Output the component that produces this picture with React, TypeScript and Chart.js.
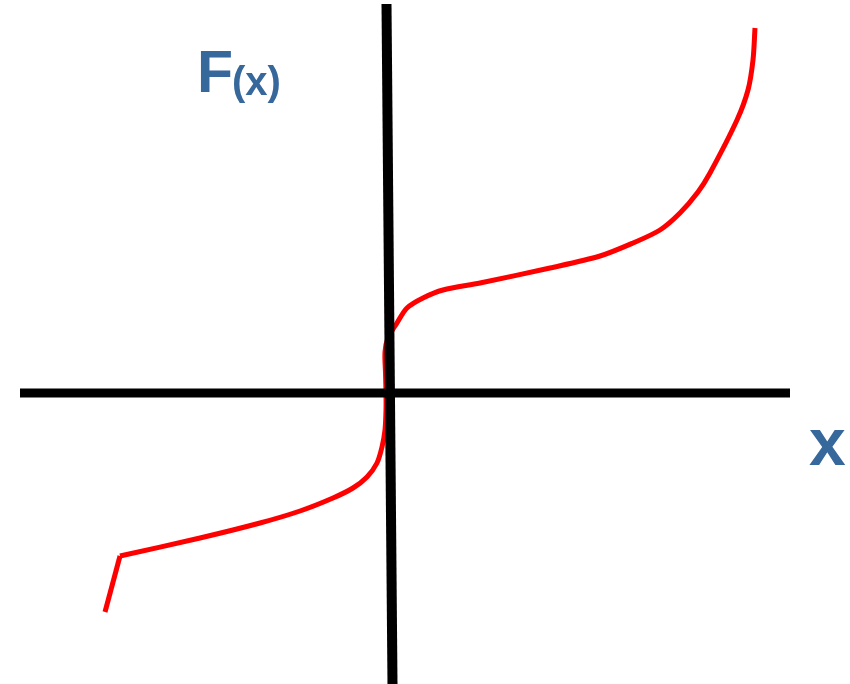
import React, { useEffect, useRef } from "react";
import { Chart, registerables } from "chart.js";

Chart.register(...registerables);

// Units: origin at the axes crossing, 1 unit = 100 px
const curveX = [-2.68, -1.88, -1.28, -0.88, -0.55, -0.35, -0.21, -0.11, -0.06, -0.03, -0.02, -0.02, -0.025, -0.03, 0.0, 0.09, 0.19, 0.35, 0.55, 0.92, 1.62, 2.12, 2.45, 2.72, 2.92, 3.1, 3.22, 3.49, 3.6, 3.65, 3.67];
const curveY = [-1.63, -1.45, -1.3, -1.18, -1.05, -0.95, -0.84, -0.7, -0.54, -0.37, -0.17, 0.0, 0.2, 0.41, 0.55, 0.7, 0.85, 0.95, 1.03, 1.1, 1.25, 1.37, 1.5, 1.63, 1.8, 2.01, 2.2, 2.73, 3.03, 3.33, 3.65];
const tailX = [-2.83, -2.68];
const tailY = [-2.19, -1.63];
const hAxisX = [-3.68, 4.02];
const hAxisY = [0, 0];
const vAxisX = [-0.015, 0.045];
const vAxisY = [3.89, -2.91];
const yLabel = "F";
const yLabelSub = "(x)";
const xLabel = "x";

const pts = (xs: number[], ys: number[]) => xs.map((x, i) => ({ x, y: ys[i] }));

export default function App() {
  const ref = useRef<HTMLCanvasElement>(null);
  useEffect(() => {
    if (!ref.current) return;
    const labelPlugin = {
      id: "labels",
      afterDraw(chart: any) {
        const ctx = chart.ctx;
        const xs = chart.scales.x;
        const ys = chart.scales.y;
        ctx.save();
        ctx.fillStyle = "#36689b";
        ctx.textBaseline = "alphabetic";
        ctx.textAlign = "left";
        ctx.font = "bold 59px 'Liberation Sans', Arial, sans-serif";
        const fx = xs.getPixelForValue(-1.91);
        const fy = ys.getPixelForValue(3.01);
        ctx.fillText(yLabel, fx, fy);
        const w = ctx.measureText(yLabel).width;
        ctx.font = "bold 40px 'Liberation Sans', Arial, sans-serif";
        ctx.fillText(yLabelSub, fx + w - 1, ys.getPixelForValue(2.98));
        ctx.font = "bold 66px 'Liberation Sans', Arial, sans-serif";
        ctx.fillText(xLabel, xs.getPixelForValue(4.21), ys.getPixelForValue(-0.72));
        ctx.restore();
      },
    };
    const chart = new Chart(ref.current, {
      type: "line",
      data: {
        datasets: [
          { data: pts(hAxisX, hAxisY), borderColor: "#000", borderWidth: 9, pointRadius: 0, order: 0, borderCapStyle: "butt" },
          { data: pts(vAxisX, vAxisY), borderColor: "#000", borderWidth: 10, pointRadius: 0, order: 0, borderCapStyle: "butt" },
          { data: pts(curveX, curveY), borderColor: "#ff0000", borderWidth: 5, pointRadius: 0, order: 1, tension: 0.3 },
          { data: pts(tailX, tailY), borderColor: "#ff0000", borderWidth: 5, pointRadius: 0, order: 1 },
        ],
      },
      options: {
        animation: false,
        responsive: false,
        events: [],
        layout: { padding: 0 },
        plugins: { legend: { display: false }, tooltip: { enabled: false } },
        scales: {
          x: { type: "linear", min: -3.88, max: 4.62, display: false },
          y: { type: "linear", min: -2.91, max: 3.93, display: false },
        },
      },
      plugins: [labelPlugin],
    } as any);
    return () => chart.destroy();
  }, []);
  return (
    <div style={{ position: "fixed", left: 0, top: 0, width: 850, height: 684, background: "#fff" }}>
      <canvas ref={ref} width={850} height={684} style={{ display: "block" }} />
    </div>
  );
}
